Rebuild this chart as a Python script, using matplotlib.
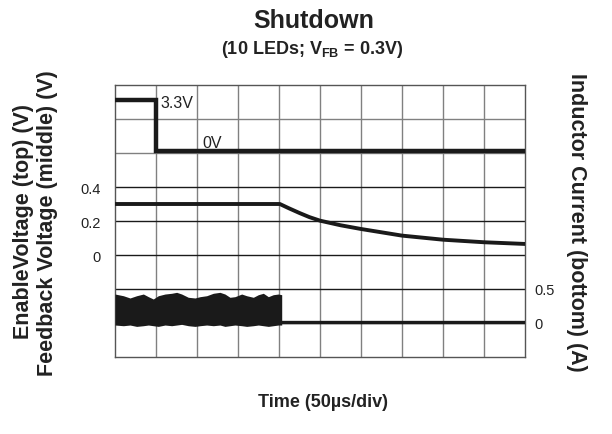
import matplotlib
matplotlib.use("Agg")
import matplotlib.pyplot as plt
import numpy as np

plt.rcParams['font.family'] = ['Liberation Sans', 'DejaVu Sans']
plt.rcParams['mathtext.fontset'] = 'custom'
plt.rcParams['mathtext.rm'] = 'Liberation Sans'
plt.rcParams['mathtext.bf'] = 'Liberation Sans:bold'

# ---- data (time in microseconds) ----
enable_t = [0, 50, 50, 500]
enable_v = [3.3, 3.3, 0.0, 0.0]

fb_t = [0, 201, 212, 225, 237, 250, 275, 300, 350, 400, 450, 500]
fb_v = [0.30, 0.30, 0.275, 0.247, 0.223, 0.202, 0.175, 0.153, 0.114, 0.090, 0.075, 0.065]

il_t = [0, 10.2, 18.3, 26.4, 34.6, 40.7, 46.7, 52.8, 61, 69.1, 75.2, 81.3, 89.4,
        97.6, 103.7, 111.8, 119.9, 128, 134.1, 140.2, 146.3, 154.5, 160.6, 168.7,
        174.8, 180.9, 187, 193, 199.1, 203.3]
il_top = [0.426, 0.401, 0.368, 0.401, 0.426, 0.387, 0.353, 0.401, 0.426, 0.437,
          0.451, 0.426, 0.378, 0.368, 0.387, 0.401, 0.437, 0.451, 0.426, 0.378,
          0.387, 0.426, 0.401, 0.378, 0.416, 0.437, 0.387, 0.416, 0.426, 0.416]
il_bot = [-0.03, -0.04, -0.03, -0.05, -0.04, -0.03, -0.04, -0.05, -0.03, -0.04,
          -0.03, -0.02, -0.04, -0.05, -0.04, -0.03, -0.04, -0.03, -0.05, -0.04,
          -0.03, -0.04, -0.05, -0.04, -0.03, -0.04, -0.05, -0.04, -0.03, -0.03]
il_off_t = [203.3, 500]
il_off_v = [0.02, 0.02]

left_ticks = [0.4, 0.2, 0.0]
left_labels = ['0.4', '0.2', '0']
right_ticks = [0.5, 0.0]
right_labels = ['0.5', '0']

# ---- scope channel scaling (division units) ----
EN_OFF, EN_SCALE = 6.05, 2.18     # V/div
FB_OFF, FB_SCALE = 3.0, 0.2       # V/div
IL_OFF, IL_SCALE = 1.0, 0.5       # A/div

def en(v): return EN_OFF + np.asarray(v) / EN_SCALE
def fb(v): return FB_OFF + np.asarray(v) / FB_SCALE
def il(v): return IL_OFF + np.asarray(v) / IL_SCALE

fig = plt.figure(figsize=(6.12, 4.35), dpi=100)
ax = fig.add_axes([115/612, 1-358/435, 410/612, 272/435])
ax.set_xlim(0, 500)
ax.set_ylim(0, 8)

for x in np.arange(50, 500, 50):
    ax.axvline(x, color='#808080', lw=1.0, zorder=1)
for y in range(1, 8):
    c = '#1a1a1a' if y in (1, 2, 3, 4, 5) else '#808080'
    ax.axhline(y, color=c, lw=1.0, zorder=1)
for s in ax.spines.values():
    s.set_color('#555555')
    s.set_linewidth(1.0)

ax.plot(enable_t, en(enable_v), color='#1a1a1a', lw=3.2, zorder=3, solid_joinstyle='miter')
ax.plot(fb_t, fb(fb_v), color='#1a1a1a', lw=2.8, zorder=3)
ax.fill_between(il_t, il(il_bot), il(il_top), color='#1a1a1a', lw=0, zorder=3)
ax.plot(il_off_t, il(il_off_v), color='#1a1a1a', lw=2.4, zorder=3)

ax.text(56, 7.5, '3.3V', fontsize=11.5, va='center', ha='left', color='#222222')
ax.text(106, 6.32, '0V', fontsize=11.5, va='center', ha='left', color='#222222')

ax.set_xticks([])
ax.set_yticks(fb(left_ticks))
ax.set_yticklabels(left_labels, fontsize=10.5, color='#222222')
ax.tick_params(axis='y', length=0, pad=10.5)
ax2 = ax.twinx()
ax2.set_ylim(0, 8)
ax2.set_yticks(il(right_ticks))
ax2.set_yticklabels(right_labels, fontsize=10.5, color='#222222')
ax2.tick_params(axis='y', length=0, pad=7)
for s in ax2.spines.values():
    s.set_visible(False)

fig.text(314/612, 1-28/435, 'Shutdown', fontsize=18, fontweight='bold',
         ha='center', va='baseline', color='#222222')
fig.text(312/612, 1-54.5/435, r'(10 LEDs; V$_{\mathbf{FB}}$ = 0.3V)', fontsize=13,
         fontweight='bold', ha='center', va='baseline', color='#222222')
fig.text(24/612, 1-221.5/435, 'EnableVoltage (top) (V)', fontsize=15.5,
         fontweight='bold', rotation=90, ha='center', va='center', color='#222222')
fig.text(48/612, 1-223/435, 'Feedback Voltage (middle) (V)', fontsize=15.5,
         fontweight='bold', rotation=90, ha='center', va='center', color='#222222')
fig.text(577/612, 1-222/435, 'Inductor Current (bottom) (A)', fontsize=15.5,
         fontweight='bold', rotation=-90, ha='center', va='center', color='#222222')
fig.text(323/612, 1-403/435, 'Time (50µs/div)', fontsize=13, fontweight='bold',
         ha='center', va='center', color='#222222')

fig.savefig('out.png', dpi=100)
